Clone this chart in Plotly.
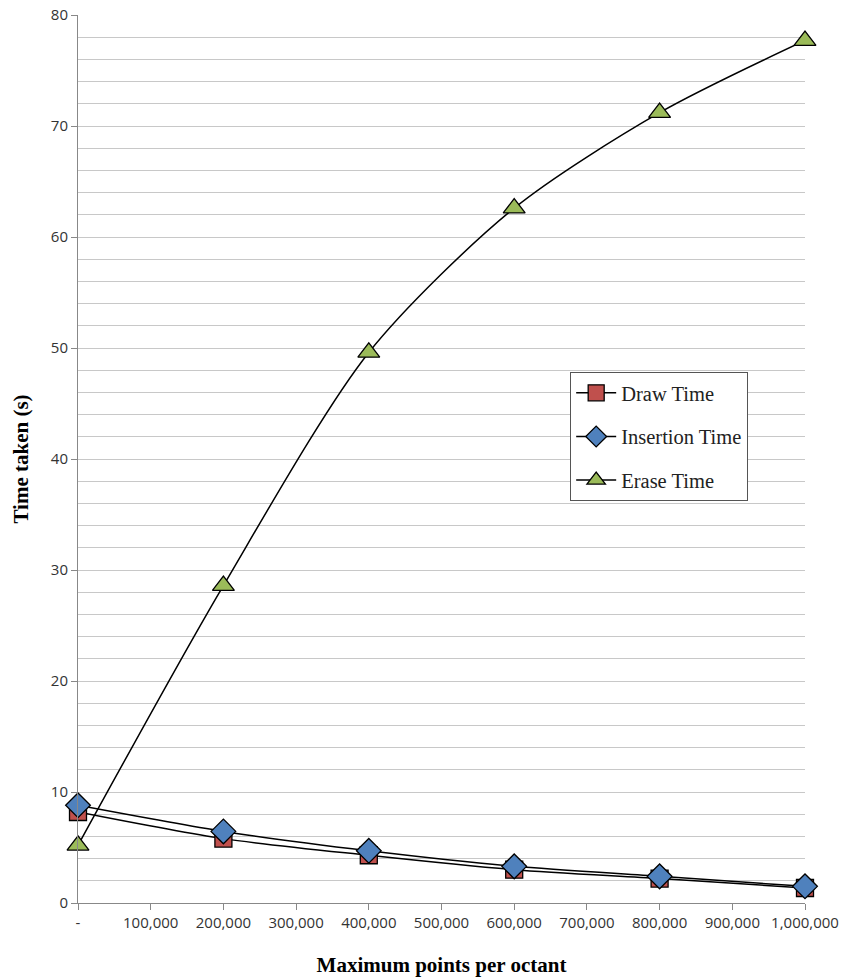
import plotly.graph_objects as go

x_points = [0, 200000, 400000, 600000, 800000, 1000000]
draw_time = [8.2, 5.8, 4.3, 3.0, 2.2, 1.35]
insertion_time = [8.8, 6.45, 4.7, 3.3, 2.4, 1.5]
erase_time = [5.2, 28.6, 49.6, 62.6, 71.2, 77.7]

x_tickvals = [0, 100000, 200000, 300000, 400000, 500000, 600000, 700000, 800000, 900000, 1000000]
x_ticktext = ["-", "100,000", "200,000", "300,000", "400,000", "500,000",
              "600,000", "700,000", "800,000", "900,000", "1,000,000"]

series = [
    ("Draw Time", draw_time, "square", "#C0504D", 17),
    ("Insertion Time", insertion_time, "diamond", "#4F81BD", 19),
    ("Erase Time", erase_time, "triangle-up", "#9BBB59", 19),
]

fig = go.Figure()
for name, vals, sym, col, sz in series:
    fig.add_trace(go.Scatter(
        x=x_points, y=vals, name=name, mode="lines+markers",
        line=dict(color="black", width=1.5, shape="spline", smoothing=0.8),
        marker=dict(symbol=sym, size=sz, color=col, line=dict(color="black", width=1.3)),
        legendgroup=name, cliponaxis=False,
    ))

fig.update_layout(
    width=845, height=978,
    margin=dict(l=78, r=40, t=15, b=75),
    plot_bgcolor="white", paper_bgcolor="white",
    showlegend=True,
    legend=dict(
        x=0.677, y=0.598, xanchor="left", yanchor="top",
        bordercolor="#555555", borderwidth=1, bgcolor="white",
        font=dict(family="Liberation Serif", size=20.5, color="#222222"),
        tracegroupgap=14, itemwidth=40,
    ),
    xaxis=dict(
        range=[0, 1000000], tickvals=x_tickvals, ticktext=x_ticktext,
        showgrid=False, showline=True, linecolor="#888888", linewidth=1,
        ticks="outside", ticklen=6, tickcolor="#888888",
        tickfont=dict(family="Open Sans", size=15, color="#333333"),
        ticklabeloverflow="allow",
        title=dict(text="<b>Maximum points per octant</b>",
                   font=dict(family="Liberation Serif", size=21, color="black"), standoff=26),
        zeroline=False, automargin=False,
    ),
    yaxis=dict(
        range=[0, 80], dtick=10, tick0=0,
        showgrid=True, gridcolor="#C8C8C8", gridwidth=1,
        minor=dict(dtick=2, showgrid=True, gridcolor="#C8C8C8", gridwidth=1),
        showline=True, linecolor="#888888", linewidth=1,
        ticks="outside", ticklen=6, tickcolor="#888888",
        tickfont=dict(family="Open Sans", size=15, color="#333333"),
        ticklabeloverflow="allow",
        title=dict(text="<b>Time taken (s)</b>",
                   font=dict(family="Liberation Serif", size=21, color="black"), standoff=16),
        zeroline=False, automargin=False,
    ),
)

fig.write_html("out.html", config={"displayModeBar": False},
               post_script="document.body.style.margin='0';")
